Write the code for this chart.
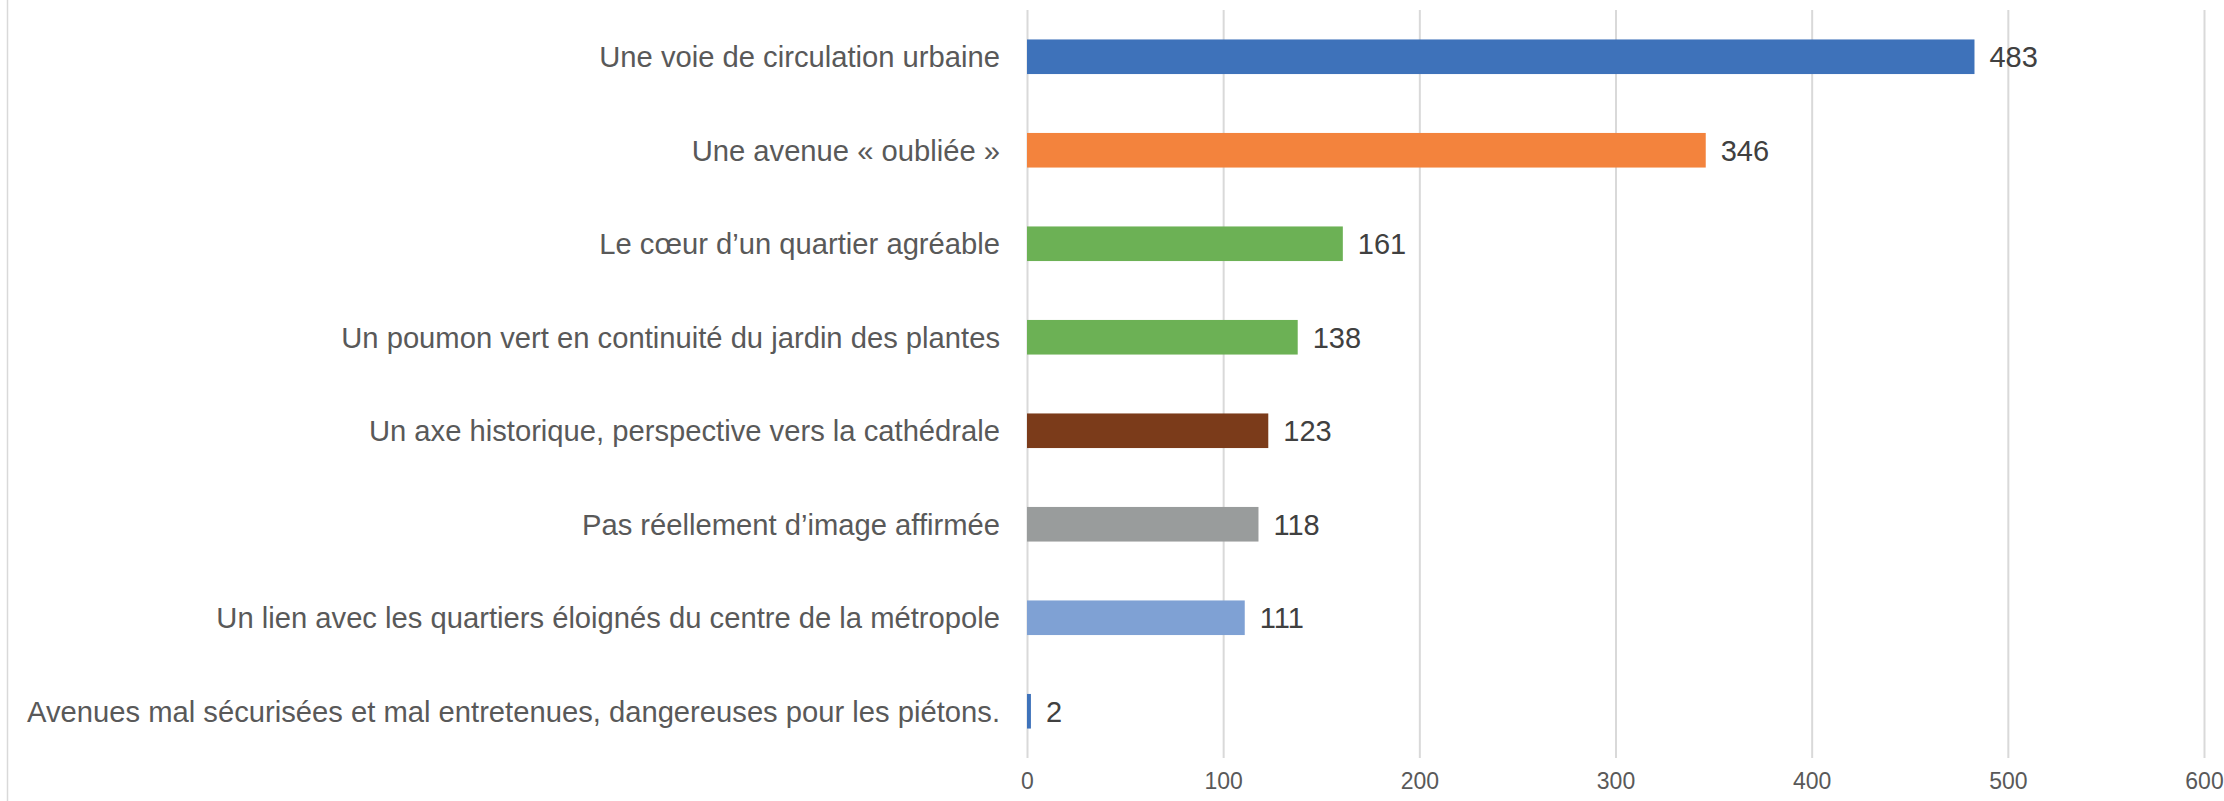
<!DOCTYPE html>
<html>
<head>
<meta charset="utf-8">
<script src="https://cdn.jsdelivr.net/npm/d3@7"></script>
<style>
  body { margin: 0; background: #fff; }
  svg { display: block; font-family: 'Liberation Sans', Arial, sans-serif; }
</style>
</head>
<body>
<div id="chart"></div>
<script>
const categories = [
  'Une voie de circulation urbaine',
  'Une avenue « oubliée »',
  'Le cœur d’un quartier agréable',
  'Un poumon vert en continuité du jardin des plantes',
  'Un axe historique, perspective vers la cathédrale',
  'Pas réellement d’image affirmée',
  'Un lien avec les quartiers éloignés du centre de la métropole',
  'Avenues mal sécurisées et mal entretenues, dangereuses pour les piétons.'
]
const values = [483, 346, 161, 138, 123, 118, 111, 2]
const colors = ['#3e72ba', '#f3833d', '#6cb155', '#6cb155', '#7b3b1a', '#999c9c', '#7fa1d4', '#3e72ba']
const ticks = [0, 100, 200, 300, 400, 500, 600]

const W = 2224
const H = 801
const margin = { top: 10, left: 1027, right: 20, bottom: 43 }
const width = W - margin.left - margin.right
const height = H - margin.top - margin.bottom

const svg = d3
  .select('#chart')
  .append('svg')
  .attr('width', W)
  .attr('height', H)

// left edge of the chart frame
svg
  .append('line')
  .attr('x1', 7.5)
  .attr('x2', 7.5)
  .attr('y1', 0)
  .attr('y2', H)
  .attr('stroke', '#d9d9d9')
  .attr('stroke-width', 1.5)

const g = svg
  .append('g')
  .attr('transform', 'translate(' + margin.left + ',' + margin.top + ')')

const xPositionScale = d3
  .scaleLinear()
  .domain([0, 600])
  .range([0, width])

const yPositionScale = d3
  .scaleBand()
  .domain(categories)
  .range([0, height])
  .paddingInner(0.63)
  .paddingOuter(0.315)

const x_axis = d3
  .axisBottom(xPositionScale)
  .tickValues(ticks)
  .tickSize(-height)
  .tickPadding(15)

g.append('g')
  .attr('class', 'axis x-axis')
  .attr('transform', 'translate(0,' + height + ')')
  .call(x_axis)
g.selectAll('.x-axis line').attr('stroke', '#d9d9d9').attr('stroke-width', 2)
g.selectAll('.x-axis path').attr('stroke', 'none')
g.selectAll('.x-axis text')
  .attr('font-size', 23)
  .attr('fill', '#595959')
  .attr('font-family', "'Liberation Sans', Arial, sans-serif")

g.selectAll('.bar')
  .data(values)
  .enter()
  .append('rect')
  .attr('class', 'bar')
  .attr('x', 0)
  .attr('y', (d, i) => yPositionScale(categories[i]))
  .attr('width', d => xPositionScale(d))
  .attr('height', yPositionScale.bandwidth())
  .attr('fill', (d, i) => colors[i])

g.selectAll('.value')
  .data(values)
  .enter()
  .append('text')
  .attr('class', 'value')
  .attr('x', d => xPositionScale(d) + 15)
  .attr('y', (d, i) => yPositionScale(categories[i]) + yPositionScale.bandwidth() / 2)
  .attr('dy', '0.36em')
  .attr('font-size', 29)
  .attr('fill', '#404040')
  .text(d => d)

g.selectAll('.cat')
  .data(categories)
  .enter()
  .append('text')
  .attr('class', 'cat')
  .attr('x', -27)
  .attr('y', d => yPositionScale(d) + yPositionScale.bandwidth() / 2)
  .attr('dy', '0.36em')
  .attr('text-anchor', 'end')
  .attr('font-size', 29.2)
  .attr('fill', '#595959')
  .text(d => d)
</script>
</body>
</html>
